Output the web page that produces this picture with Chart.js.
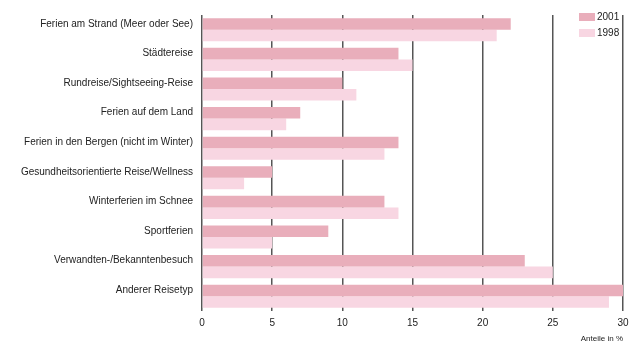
<!DOCTYPE html>
<html><head><meta charset="utf-8">
<script src="https://cdn.jsdelivr.net/npm/chart.js@4"></script>
<style>html,body{margin:0;padding:0;background:#fff}#wrap{width:643px;height:345px}</style>
</head><body><div id="wrap"><canvas id="c" width="643" height="345"></canvas></div>
<script>
const categories = ["Ferien am Strand (Meer oder See)","Städtereise","Rundreise/Sightseeing-Reise","Ferien auf dem Land","Ferien in den Bergen (nicht im Winter)","Gesundheitsorientierte Reise/Wellness","Winterferien im Schnee","Sportferien","Verwandten-/Bekanntenbesuch","Anderer Reisetyp"];
const values2001 = [22,14,10,7,14,5,13,9,23,30];
const values1998 = [21,15,11,6,13,3,14,5,25,29];
const seriesNames = ["2001","1998"];
const xTicks = [0,5,10,15,20,25,30];
const FONT = "'Liberation Sans Narrow','Arial Narrow','Liberation Sans',sans-serif";
const colors = ["#e9aebb","#f8d6e2"];

const legendPlugin = {
  id:'cornerLegend',
  afterDraw(chart){
    const ctx = chart.ctx;
    ctx.save();
    ctx.font = "10px " + FONT;
    ctx.textBaseline = 'middle';
    seriesNames.forEach((n,i)=>{
      const y = 17 + i*16;
      ctx.fillStyle = colors[i];
      ctx.fillRect(579, y-4, 16, 8);
      ctx.fillStyle = '#222';
      ctx.fillText(n, 597, y);
    });
    ctx.restore();
  }
};

new Chart(document.getElementById('c'), {
  type:'bar',
  data:{
    labels: categories,
    datasets:[
      {label:seriesNames[0], data:values2001, backgroundColor:colors[0], categoryPercentage:0.78, barPercentage:1},
      {label:seriesNames[1], data:values1998, backgroundColor:colors[1], categoryPercentage:0.78, barPercentage:1}
    ]
  },
  options:{
    indexAxis:'y',
    responsive:false,
    animation:false,
    layout:{padding:{top:15,right:20,left:0,bottom:0}},
    plugins:{legend:{display:false},tooltip:{enabled:false}},
    scales:{
      x:{
        min:0,max:30,
        z:1,
        afterBuildTicks(s){ s.ticks = xTicks.map(v=>({value:v})); },
        afterFit(s){ s.height = 34; },
        grid:{color:'#555',lineWidth:1.5,drawTicks:false},
        border:{display:false},
        ticks:{color:'#222',font:{family:FONT,size:10},padding:6},
        title:{display:true,text:'Anteile in %',align:'end',color:'#222',font:{family:FONT,size:8},padding:{top:0,bottom:1}}
      },
      y:{
        grid:{display:false,drawTicks:false},
        border:{display:false},
        ticks:{color:'#222',font:{family:FONT,size:10},padding:9,labelOffset:-6},
        afterFit(s){ s.width = 202; }
      }
    }
  },
  plugins:[legendPlugin]
});
</script></body></html>
